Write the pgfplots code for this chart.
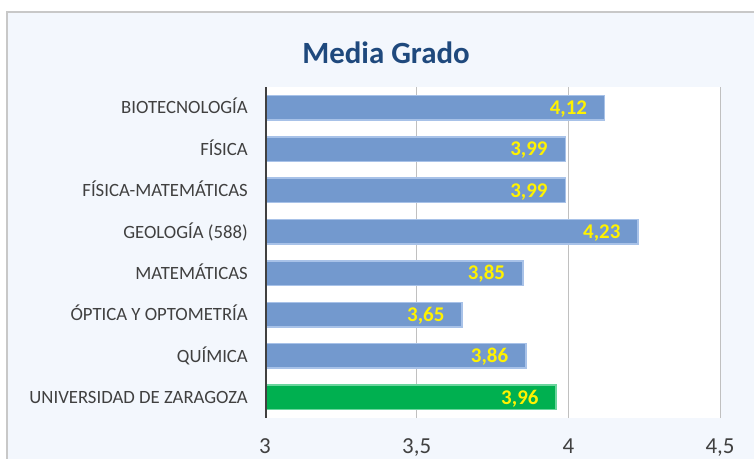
\documentclass[border=0pt]{standalone}
\usepackage{fontspec}
\setmainfont{Carlito}
\usepackage{pgfplots}
\pgfplotsset{compat=1.18}

\definecolor{barblue}{HTML}{7399CE}
\definecolor{barblueedge}{HTML}{A8C2E8}
\definecolor{bargreen}{HTML}{00B050}
\definecolor{bargreenedge}{HTML}{6AD59D}
\definecolor{titleblue}{HTML}{1F497D}
\definecolor{chartbg}{HTML}{F3F7FD}
\definecolor{framegray}{HTML}{C8C8C8}
\definecolor{textgray}{HTML}{404040}
\definecolor{gridgray}{HTML}{C0C0C0}

\begin{document}
\begin{tikzpicture}
\useasboundingbox (0,0) rectangle (754bp,-459bp);
\clip (0,0) rectangle (754bp,-459bp);
% chart area, cropped on the right and at the bottom
\fill[chartbg] (7bp,-12bp) rectangle (780bp,-480bp);
\draw[framegray, line width=1.5bp] (7bp,-480bp) -- (7bp,-12bp) -- (780bp,-12bp);
\node[anchor=base, font=\fontsize{31}{34}\selectfont\bfseries, text=titleblue] at (386bp,-63bp) {Media Grado};

\begin{axis}[
  at={(265bp,-418bp)}, anchor=south west,
  scale only axis, width=455bp, height=331bp,
  xbar, bar width=24.5bp, bar shift=0pt,
  xmin=3, xmax=4.5,
  ymin=-0.5, ymax=7.5,
  ytick={0,...,7},
  yticklabels={UNIVERSIDAD DE ZARAGOZA, QUÍMICA, ÓPTICA Y OPTOMETRÍA, MATEMÁTICAS, GEOLOGÍA (588), FÍSICA-MATEMÁTICAS, FÍSICA, BIOTECNOLOGÍA},
  xtick={3,3.5,4,4.5},
  /pgf/number format/.cd, use comma, 1000 sep={}, assume math mode=true, /pgfplots/.cd,
  major tick length=0pt,
  axis line style={draw=none},
  axis background/.style={fill=white},
  xmajorgrids, grid style={gridgray, line width=1bp},
  xticklabel style={font=\fontsize{23}{26}\selectfont, text=textgray, anchor=base, yshift=-35bp},
  yticklabel style={font=\fontsize{18.8}{21}\selectfont, text=textgray, anchor=east, inner sep=0pt, xshift=-17bp, text height=12.5bp, text depth=0bp},
  point meta=x,
  nodes near coords={\pgfmathprintnumber[fixed,fixed zerofill,precision=2,use comma,assume math mode=true]{\pgfplotspointmeta}},
  every node near coord/.append style={anchor=east, xshift=-17bp, inner sep=0pt, font=\fontsize{21}{24}\selectfont\bfseries, text=yellow, text height=13.5bp, text depth=0bp},
]
\addplot[fill=barblue, draw=barblueedge, line width=1.5bp] coordinates {
  (4.12,7) (3.99,6) (3.99,5) (4.23,4) (3.85,3) (3.65,2) (3.86,1)
};
\addplot[fill=bargreen, draw=bargreenedge, line width=1.5bp] coordinates {
  (3.96,0)
};
\draw[textgray, line width=3bp] (rel axis cs:0,0) -- (rel axis cs:0,1);
\end{axis}
\end{tikzpicture}
\end{document}
